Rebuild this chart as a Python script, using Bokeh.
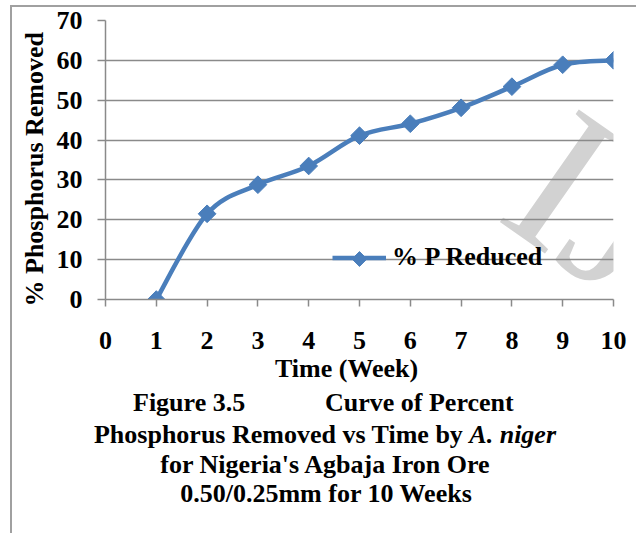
import math
from bokeh.plotting import figure
from bokeh.layouts import column
from bokeh.models import (Range1d, FixedTicker, Label, Legend, LegendItem,
                          ColumnDataSource, Title, Div)
from bokeh.embed import file_html
from bokeh.resources import INLINE

# ---- data ----
weeks = [1, 2, 3, 4, 5, 6, 7, 8, 9, 10]
p_reduced = [0.0, 21.5, 28.8, 33.5, 41.1, 44.1, 48.1, 53.4, 58.9, 60.0]
x_ticks = [0, 1, 2, 3, 4, 5, 6, 7, 8, 9, 10]
y_ticks = [0, 10, 20, 30, 40, 50, 60, 70]
series_name = "% P Reduced"
x_title = "Time (Week)"
y_title = "% Phosphorus Removed"
caption = ["Figure 3.5", "Curve of Percent",
           "Phosphorus Removed vs Time by", "A. niger",
           "for Nigeria's Agbaja Iron Ore", "0.50/0.25mm for 10 Weeks"]
watermark = "IJERT"

# ---- layout geometry (page pixels) ----
PAGE_W, PAGE_H = 636, 533
OX, OY = 12, 7                  # where the figure starts inside the frame border
FRAME_L, FRAME_T, FRAME_W, FRAME_H = 105, 20, 508, 279
FIG_W = PAGE_W - OX
FIG_H = 384
XMAX, YMAX = 10, 70

def dx(px):
    return (px - FRAME_L) / FRAME_W * XMAX

def dy(py):
    return (FRAME_T + FRAME_H - py) / FRAME_H * YMAX

FONT = "Liberation Serif"
BLUE = "#4A7EBB"
GREY = "#8A8A8A"

p = figure(width=FIG_W, height=FIG_H, output_backend="svg",
           toolbar_location=None,
           x_range=Range1d(0, XMAX), y_range=Range1d(0, YMAX),
           min_border_left=FRAME_L - OX,
           min_border_right=FIG_W - (FRAME_L - OX) - FRAME_W,
           min_border_top=FRAME_T - OY,
           min_border_bottom=FIG_H - (FRAME_T - OY) - FRAME_H)
p.outline_line_color = None
p.background_fill_color = "white"
p.border_fill_color = "white"

for ax in (p.xaxis[0], p.yaxis[0]):
    ax.axis_line_color = GREY
    ax.axis_line_width = 1.5
    ax.major_tick_line_color = GREY
    ax.major_tick_line_width = 1.5
    ax.major_tick_in = 0
    ax.minor_tick_line_color = None
    ax.major_label_text_font = FONT
    ax.major_label_text_font_style = "bold"
    ax.major_label_text_font_size = "26px"
    ax.major_label_text_color = "black"
p.xaxis.ticker = FixedTicker(ticks=x_ticks)
p.yaxis.ticker = FixedTicker(ticks=y_ticks)
p.xaxis.major_tick_out = 7
p.yaxis.major_tick_out = 8
p.xaxis.major_label_standoff = 25
p.yaxis.major_label_standoff = 15

p.xgrid.grid_line_color = None
p.ygrid.grid_line_color = GREY
p.ygrid.grid_line_width = 1.5

# axis titles
p.add_layout(Title(text=x_title, align="left", offset=169.5, standoff=0,
                   text_font=FONT, text_font_style="bold",
                   text_font_size="26px", text_color="black"), "below")
p.add_layout(Title(text=y_title, align="left", offset=-7, standoff=10,
                   text_font=FONT, text_font_style="bold",
                   text_font_size="26px", text_color="black"), "left")

# watermark
p.add_layout(Label(x=dx(534), y=dy(159), text=watermark, angle=-35,
                   angle_units="deg", text_font=FONT, text_font_size="210px",
                   text_color="#d2d2d2", text_baseline="alphabetic",
                   level="image"))

# smooth line through the points (Catmull-Rom style bezier segments)
n = len(weeks)
x0s, y0s, x1s, y1s, cx0, cy0, cx1, cy1 = ([] for _ in range(8))
for i in range(n - 1):
    xa, ya = weeks[i], p_reduced[i]
    xb, yb = weeks[i + 1], p_reduced[i + 1]
    xp, yp = (weeks[i - 1], p_reduced[i - 1]) if i > 0 else (xa, ya)
    xn, yn = (weeks[i + 2], p_reduced[i + 2]) if i + 2 < n else (xb, yb)
    x0s.append(xa); y0s.append(ya); x1s.append(xb); y1s.append(yb)
    cx0.append(xa + (xb - xp) / 6); cy0.append(ya + (yb - yp) / 6)
    cx1.append(xb - (xn - xa) / 6); cy1.append(yb - (yn - ya) / 6)

bez = p.bezier(x0=x0s, y0=y0s, x1=x1s, y1=y1s, cx0=cx0, cy0=cy0,
               cx1=cx1, cy1=cy1, line_color=BLUE, line_width=4.5)
src = ColumnDataSource(dict(x=weeks, y=p_reduced))
p.scatter("x", "y", source=src, marker="square", size=12.5,
          angle=math.pi / 4, fill_color=BLUE, line_color=BLUE)

# legend
LEG_X, LEG_Y, GLYPH_W, GLYPH_H = 227, 27, 54, 27
legend = Legend(items=[LegendItem(label=series_name, renderers=[bez])],
                location=(LEG_X, LEG_Y), padding=0, margin=0, spacing=0,
                glyph_width=GLYPH_W, glyph_height=GLYPH_H, label_standoff=6,
                background_fill_alpha=0, border_line_color=None,
                label_text_font=FONT, label_text_font_style="bold",
                label_text_font_size="26px", label_text_color="black")
p.add_layout(legend)
# diamond marker of the legend entry, at the centre of the legend glyph
leg_cx = FRAME_L + LEG_X + GLYPH_W / 2
leg_cy = FRAME_T + FRAME_H - LEG_Y - GLYPH_H / 2
p.scatter([dx(leg_cx)], [dy(leg_cy)], marker="square", size=10.5,
          angle=math.pi / 4, fill_color=BLUE, line_color=BLUE)

# caption below the chart
DIV_TOP = OY + FIG_H
LH = 30.3
BASE = 23.9  # baseline position inside one line box

def top_of(baseline_px):
    return baseline_px - BASE - DIV_TOP

div_h = PAGE_H - DIV_TOP
line_style = ("position:absolute;white-space:nowrap;")
html = (
    f'<div style="position:relative;width:{FIG_W}px;height:{div_h}px;'
    f"font-family:'{FONT}';font-weight:bold;font-size:26px;color:black;"
    f'line-height:{LH}px;margin:0;padding:0;">'
    f'<div style="{line_style}left:{133 - OX}px;top:{top_of(412):.1f}px;">{caption[0]}</div>'
    f'<div style="{line_style}left:{325 - OX}px;top:{top_of(412):.1f}px;">{caption[1]}</div>'
    f'<div style="{line_style}left:0;width:{2 * (325 - OX)}px;text-align:center;top:{top_of(443.5):.1f}px;">'
    f'{caption[2]} <i>{caption[3]}</i></div>'
    f'<div style="{line_style}left:0;width:{2 * (325 - OX)}px;text-align:center;top:{top_of(474):.1f}px;">{caption[4]}</div>'
    f'<div style="{line_style}left:0;width:{2 * (326 - OX)}px;text-align:center;top:{top_of(503):.1f}px;">{caption[5]}</div>'
    '</div>'
)
div = Div(text=html, width=FIG_W, height=div_h, margin=(0, 0, 0, 0))

layout = column(p, div, spacing=0,
                styles={"margin-left": "10px", "margin-top": "5px",
                        "border-left": "2px solid #a0a0a0",
                        "border-top": "2px solid #a0a0a0",
                        "background-color": "white"})

open("out.html", "w").write(file_html(layout, INLINE))
